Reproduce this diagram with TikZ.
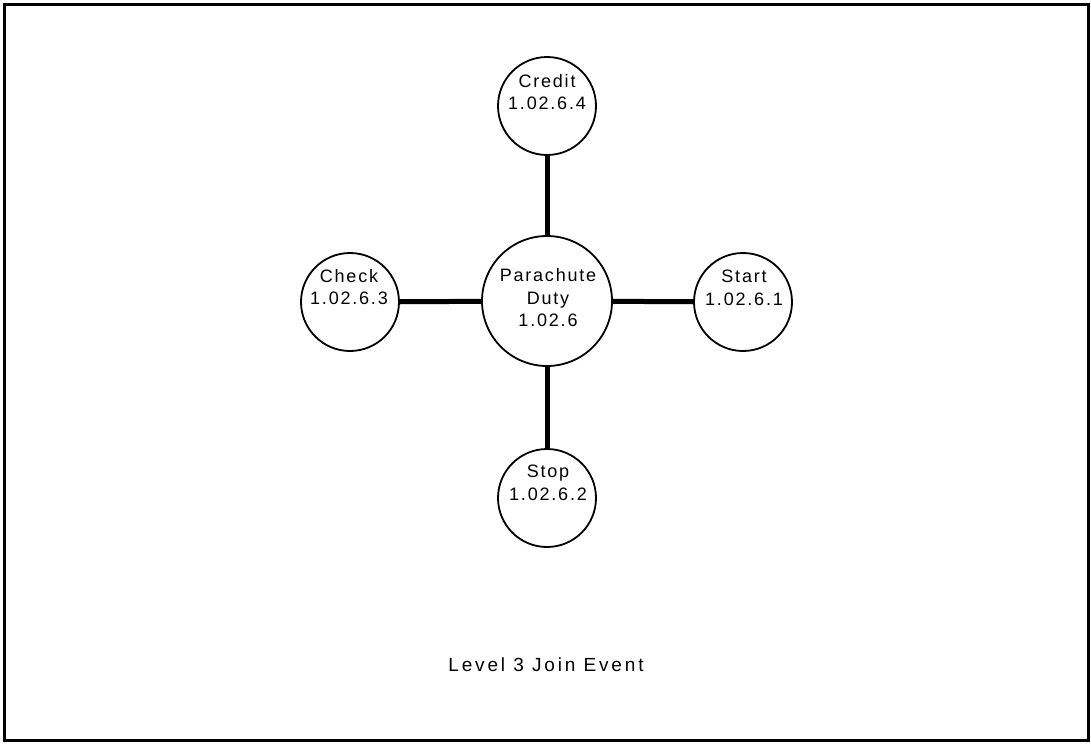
\documentclass[tikz,border=0pt]{standalone}
\usepackage{fontspec}
\setmainfont{Liberation Sans}
\newfontfamily\lblfont[LetterSpace=10]{Liberation Sans}
\newfontfamily\capfont[LetterSpace=15]{Liberation Sans}
\begin{document}
\begin{tikzpicture}[x=1pt,y=-1pt,
  bubble/.style={circle,draw=black,line width=1.8pt,minimum size=98pt,inner sep=0pt,fill=white},
  hub/.style={circle,draw=black,line width=1.8pt,minimum size=130pt,inner sep=0pt,fill=white},
  txt/.style={align=center,inner sep=0pt,font=\lblfont\fontsize{18}{22.5}\selectfont},
  spoke/.style={line width=5pt,black}]
\useasboundingbox (0,0) rectangle (1091,744);
\node[draw=black,line width=2.8pt,minimum width=1084pt,minimum height=736pt,inner sep=0pt] (frame) at (546.5,372.5) {};
% spokes first, circles on top
\coordinate (pc) at (547,301);
\coordinate (cc) at (547,106);
\coordinate (sc) at (547,498);
\coordinate (kc) at (350,302);
\coordinate (rc) at (743,302);
\node[hub] (duty) at (pc) {};
\node[bubble] (credit) at (cc) {};
\node[bubble] (stop) at (sc) {};
\node[bubble] (check) at (kc) {};
\node[bubble] (start) at (rc) {};
\draw[spoke] (duty) -- (credit);
\draw[spoke] (duty) -- (stop);
\draw[spoke] (duty) -- (check);
\draw[spoke] (duty) -- (start);
\node[txt] (tduty) at (548,298) {Parachute\\Duty\\1.02.6};
\node[txt] (tcredit) at (547,92) {Credit\\1.02.6.4};
\node[txt] (tstop) at (548,483) {Stop\\1.02.6.2};
\node[txt] (tcheck) at (349,287) {Check\\1.02.6.3};
\node[txt] (tstart) at (744,288) {Start\\1.02.6.1};
\node[inner sep=0pt,font=\capfont\fontsize{19}{23}\selectfont] (title) at (546,665) {Level 3 Join Event};
\end{tikzpicture}
\end{document}
